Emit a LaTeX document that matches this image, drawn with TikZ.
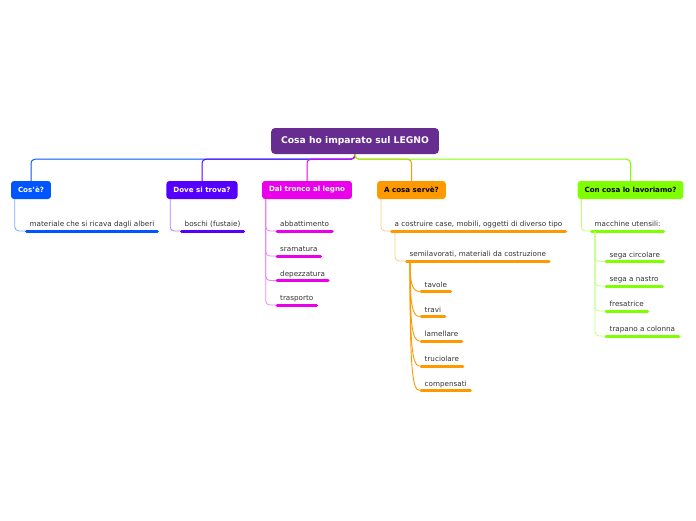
\documentclass[tikz,border=0pt]{standalone}
\usepackage{fontspec}
\setmainfont{DejaVu Sans}
\usetikzlibrary{calc}
\definecolor{rootpurple}{RGB}{102,44,144}
\definecolor{cosblue}{RGB}{0,85,255}
\definecolor{dovevio}{RGB}{85,0,255}
\definecolor{tronmag}{RGB}{235,0,235}
\definecolor{servorange}{RGB}{255,153,0}
\definecolor{lavgreen}{RGB}{128,255,0}
\definecolor{textgray}{RGB}{51,51,51}

\begin{document}
\begin{tikzpicture}[x=1pt, y=-1pt,
  every node/.style={font=\fontsize{7.2}{8}\selectfont},
  topic/.style={rounded corners=3pt, fill=#1, text=white,
    font=\fontsize{7.1}{8}\selectfont\bfseries, minimum height=18pt, inner xsep=7pt},
  item/.style={anchor=south west, text=textgray, inner xsep=4.5pt, inner ysep=2.5pt,
    text height=5.5pt, text depth=1.5pt},
  underbar/.style={#1, line width=3pt, line cap=round, shorten <=1.5pt, shorten >=1.5pt},
  mainline/.style={#1, line width=1pt, rounded corners=4pt},
  subline/.style={#1!50, line width=0.8pt, rounded corners=4pt}]
  \fill[white] (0,0) rectangle (696,520);
  \useasboundingbox (0,0) rectangle (696,520);
  % Central topic
  \node[rounded corners=4pt, fill=rootpurple, text=white, font=\fontsize{9.2}{10}\selectfont\bfseries,
    minimum height=26pt, inner xsep=10pt] (root) at (355,141) {Cosa ho imparato sul LEGNO};
  % Main topics
  \node[topic=cosblue] (cos) at (31,190) {Cos'è?};
  \node[topic=dovevio] (dove) at (202,190) {Dove si trova?};
  \node[topic=tronmag] (tronco) at (307,190) {Dal tronco al legno};
  \node[topic=servorange, text=black] (serve) at (411.5,190) {A cosa servè?};
  \node[topic=lavgreen, text=black] (lavora) at (630.5,190) {Con cosa lo lavoriamo?};
  % Root connectors
  \draw[mainline=cosblue] (root.south) -- ++(0,5) -| (cos.north);
  \draw[mainline=dovevio] (root.south) -- ++(0,5) -| (dove.north);
  \draw[mainline=tronmag] (root.south) -- ++(0,5) -| (tronco.north);
  \draw[mainline=servorange] (root.south) -- ++(0,5) -| (serve.north);
  \draw[mainline=lavgreen] (root.south) -- ++(0,5) -| (lavora.north);
  % Cos'è?
  \node[item] (mat) at (25,231) {materiale che si ricava dagli alberi};
  \draw[subline=cosblue] ($(cos.south west)+(4,0)$) |- (mat.south west);
  \draw[underbar=cosblue] (mat.south west) -- (mat.south east);
  % Dove si trova?
  \node[item] (boschi) at (180,231) {boschi (fustaie)};
  \draw[subline=dovevio] ($(dove.south west)+(4,0)$) |- (boschi.south west);
  \draw[underbar=dovevio] (boschi.south west) -- (boschi.south east);
  % Dal tronco al legno
  \node[item] (abbat) at (275.5,231) {abbattimento};
  \node[item] (sram) at (275.5,256) {sramatura};
  \node[item] (depez) at (275.5,280.5) {depezzatura};
  \node[item] (trasp) at (275.5,305) {trasporto};
  \draw[subline=tronmag] ($(tronco.south west)+(4,0)$) |- (abbat.south west);
  \draw[subline=tronmag] ($(tronco.south west)+(4,0)$) |- (sram.south west);
  \draw[subline=tronmag] ($(tronco.south west)+(4,0)$) |- (depez.south west);
  \draw[subline=tronmag] ($(tronco.south west)+(4,0)$) |- (trasp.south west);
  \draw[underbar=tronmag] (abbat.south west) -- (abbat.south east);
  \draw[underbar=tronmag] (sram.south west) -- (sram.south east);
  \draw[underbar=tronmag] (depez.south west) -- (depez.south east);
  \draw[underbar=tronmag] (trasp.south west) -- (trasp.south east);
  % A cosa servè?
  \node[item] (costr) at (390,231) {a costruire case, mobili, oggetti di diverso tipo};
  \node[item] (semi) at (405,261) {semilavorati, materiali da costruzione};
  \draw[subline=servorange] ($(serve.south west)+(4,0)$) |- (costr.south west);
  \draw[subline=servorange] ($(costr.south west)+(5,0)$) |- (semi.south west);
  \draw[underbar=servorange] (costr.south west) -- (costr.south east);
  \draw[underbar=servorange] (semi.south west) -- (semi.south east);
  \node[item, inner xsep=5pt] (tavole) at (419.5,291.5) {tavole};
  \node[item, inner xsep=5pt] (travi) at (419.5,316.5) {travi};
  \node[item, inner xsep=5pt] (lamel) at (419.5,341) {lamellare};
  \node[item, inner xsep=5pt] (truc) at (419.5,366) {truciolare};
  \node[item, inner xsep=5pt] (comp) at (419.5,390.5) {compensati};
  \coordinate (semifoot) at ($(semi.south west)+(5,0)$);
  \draw[servorange, line width=0.9pt] (semifoot) .. controls +(0,20) and +(-8,0) .. (tavole.south west);
  \draw[servorange, line width=0.9pt] (semifoot) .. controls +(0,40) and +(-8,0) .. (travi.south west);
  \draw[servorange, line width=0.9pt] (semifoot) .. controls +(0,60) and +(-8,0) .. (lamel.south west);
  \draw[servorange, line width=0.9pt] (semifoot) .. controls +(0,80) and +(-8,0) .. (truc.south west);
  \draw[servorange, line width=0.9pt] (semifoot) .. controls +(0,100) and +(-8,0) .. (comp.south west);
  \draw[underbar=servorange] (tavole.south west) -- (tavole.south east);
  \draw[underbar=servorange] (travi.south west) -- (travi.south east);
  \draw[underbar=servorange] (lamel.south west) -- (lamel.south east);
  \draw[underbar=servorange] (truc.south west) -- (truc.south east);
  \draw[underbar=servorange] (comp.south west) -- (comp.south east);
  % Con cosa lo lavoriamo?
  \node[item] (macch) at (590,231) {macchine utensili:};
  \draw[subline=lavgreen] ($(lavora.south west)+(4,0)$) |- (macch.south west);
  \draw[underbar=lavgreen] (macch.south west) -- (macch.south east);
  \node[item, inner xsep=5pt] (circ) at (604.5,261.5) {sega circolare};
  \node[item, inner xsep=5pt] (nastro) at (604.5,286) {sega a nastro};
  \node[item, inner xsep=5pt] (fresa) at (604.5,311) {fresatrice};
  \node[item, inner xsep=5pt] (trap) at (604.5,336) {trapano a colonna};
  \draw[subline=lavgreen] ($(macch.south west)+(5,0)$) |- (circ.south west);
  \draw[subline=lavgreen] ($(macch.south west)+(5,0)$) |- (nastro.south west);
  \draw[subline=lavgreen] ($(macch.south west)+(5,0)$) |- (fresa.south west);
  \draw[subline=lavgreen] ($(macch.south west)+(5,0)$) |- (trap.south west);
  \draw[underbar=lavgreen] (circ.south west) -- (circ.south east);
  \draw[underbar=lavgreen] (nastro.south west) -- (nastro.south east);
  \draw[underbar=lavgreen] (fresa.south west) -- (fresa.south east);
  \draw[underbar=lavgreen] (trap.south west) -- (trap.south east);
\end{tikzpicture}
\end{document}
